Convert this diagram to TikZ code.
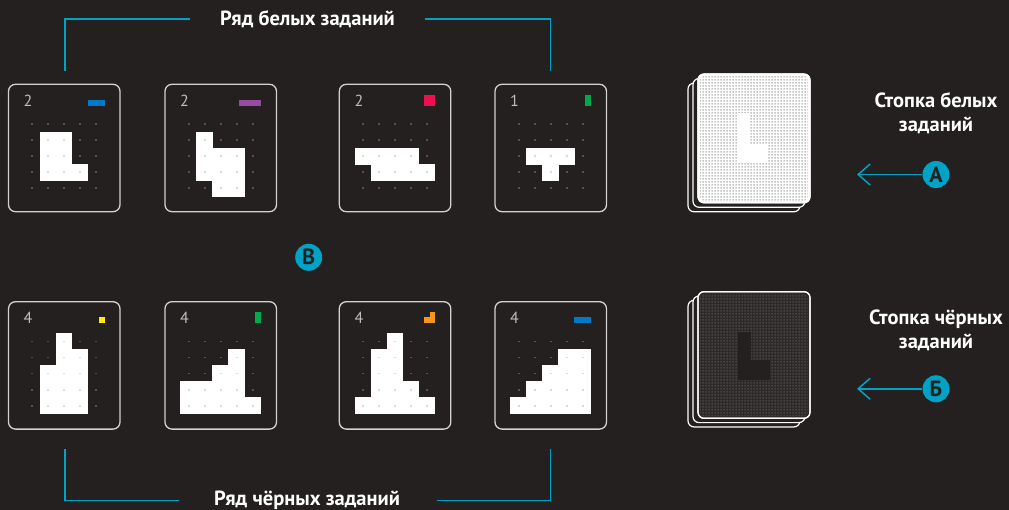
\documentclass[tikz,border=0pt]{standalone}
\usepackage{fontspec}
\setmainfont{PT Sans}
\usetikzlibrary{arrows.meta,patterns,calc}
\definecolor{bg}{RGB}{35,32,31}
\definecolor{cy}{RGB}{0,163,198}
\definecolor{cardline}{RGB}{210,210,210}
\definecolor{numc}{RGB}{190,190,190}
\definecolor{dotc}{RGB}{164,164,164}
\definecolor{ibl}{RGB}{0,121,200}
\definecolor{ipu}{RGB}{150,75,160}
\definecolor{ire}{RGB}{236,16,82}
\definecolor{igr}{RGB}{0,170,76}
\definecolor{iye}{RGB}{255,236,0}
\definecolor{ior}{RGB}{248,150,30}
\definecolor{texw}{RGB}{196,196,196}
\definecolor{blk}{RGB}{44,41,40}
\definecolor{texb}{RGB}{70,67,66}

\pgfdeclarepatternformonly{sqgrid}{\pgfqpoint{0pt}{0pt}}{\pgfqpoint{3pt}{3pt}}{\pgfqpoint{3pt}{3pt}}{%
  \pgfpathrectangle{\pgfqpoint{0.5pt}{0.5pt}}{\pgfqpoint{2pt}{2pt}}\pgfusepath{fill}}

\tikzset{
  card/.style={draw=cardline, line width=1.3pt, rounded corners=7pt, minimum width=111.5pt, minimum height=127.4pt, inner sep=0pt},
  num/.style={font=\fontsize{16}{16}\selectfont, text=numc, inner sep=0pt},
  lbl/.style={font=\bfseries\fontsize{20.5}{24}\selectfont, text=white, inner sep=0pt},
  bracket/.style={draw=cy, line width=1.5pt},
  badge/.style={circle, fill=cy, minimum size=27pt, inner sep=0pt, text=bg, font=\bfseries\fontsize{22}{22}\selectfont},
  arr/.style={draw=cy, line width=1.5pt, -{Straight Barb[length=12pt,width=21pt]}},
  stk/.style={draw=white, line width=1.2pt, rounded corners=6pt, minimum width=112pt, inner sep=0pt},
}

\newcommand\taskcard[5]{%
  \node[card] (#1) at ({#2+55.75},{#3+63.7}) {};
  \foreach \cc/\rr in {#5}{\fill[white] ({#2+15.45+16*\cc},{#3+31.75+16*\rr}) rectangle ++(16.5,16.5);}
  \foreach \cc in {0,...,4}{\foreach \rr in {0,...,4}{\fill[dotc,opacity=.39] ({#2+22.9+16*\cc},{#3+39.2+16*\rr}) rectangle ++(1.6,1.6);}}
  \node[num,anchor=base west] (#1n) at ({#2+15},{#3+22.3}) {#4};
}

\begin{document}
\begin{tikzpicture}[x=1pt,y=-1pt]
\fill[bg] (0,0) rectangle (1009,510);
\useasboundingbox (0,0) rectangle (1009,510);

% top row
\taskcard{c1}{8.5}{84.3}{2}{1/1,2/1,1/2,2/2,1/3,2/3,3/3}
\taskcard{c2}{165}{84.3}{2}{1/1,1/2,1/3,2/2,3/2,2/3,3/3,2/4,3/4}
\taskcard{c3}{339.3}{84.3}{2}{0/2,1/2,2/2,3/2,1/3,2/3,3/3,4/3}
\taskcard{c4}{495}{84.3}{1}{1/2,2/2,3/2,2/3}
\fill[ibl] (88,100) rectangle (105,105.8);
\fill[ipu] (239,100) rectangle (261,105.8);
\fill[ire] (424,95.3) rectangle (435,105.8);
\fill[igr] (585,95.3) rectangle (591,105.8);

% bottom row
\taskcard{c5}{8.5}{301.7}{4}{1/2,1/3,1/4,2/0,2/1,2/2,2/3,2/4,3/1,3/2,3/3,3/4}
\taskcard{c6}{165}{301.7}{4}{3/1,2/2,3/2,0/3,1/3,2/3,3/3,0/4,1/4,2/4,3/4,4/4}
\taskcard{c7}{339.3}{301.7}{4}{0/4,1/1,1/2,1/3,1/4,2/0,2/1,2/2,2/3,2/4,3/3,3/4,4/4}
\taskcard{c8}{495}{301.7}{4}{0/4,1/3,1/4,2/2,2/3,2/4,3/1,3/2,3/3,3/4,4/1,4/2,4/3,4/4}
\fill[iye] (99,316.7) rectangle (105,322.7);
\fill[igr] (255,312) rectangle (261,323);
\fill[ior] (424,317.3) rectangle (435,323);
\fill[ior] (429.5,312) rectangle (435,317.5);
\fill[ibl] (574,317) rectangle (591,323);

% brackets and row titles
\node[lbl, anchor=base] (ttop) at (307.5,26) {Ряд белых заданий};
\coordinate (tA) at (190,18.9);
\coordinate (tB) at (65,70.6);
\coordinate (tC) at (425,18.9);
\coordinate (tD) at (550.3,70.6);
\draw[bracket] (tA) -| (tB);
\draw[bracket] (tC) -| (tD);

\node[lbl, anchor=base] (tbot) at (307,505.3) {Ряд чёрных заданий};
\coordinate (bA) at (179,500.6);
\coordinate (bB) at (65,449);
\coordinate (bC) at (437,500.6);
\coordinate (bD) at (550.3,449);
\draw[bracket] (bA) -| (bB);
\draw[bracket] (bC) -| (bD);

% badge B
\node[badge] (bv) at (308.7,257.3) {В};

% white stack
\node[stk, fill=bg, minimum height=128.7pt] (sw3) at (744,147.4) {};
\node[stk, fill=bg, minimum height=128.7pt] (sw2) at (749,142.9) {};
\node[stk, fill=white, minimum height=128.7pt] (sw) at (754,138.4) {};
\fill[pattern=sqgrid, pattern color=texw, rounded corners=4pt] ([shift={(2.5,2.5)}]sw.north west) rectangle ([shift={(-2.5,-2.5)}]sw.south east);
\fill[white] (738,113) rectangle (750,163);
\fill[white] (738,145) rectangle (768,163);
\node[stk, minimum height=128.7pt] at (sw.center) {};

% black stack
\node[stk, fill=bg, minimum height=126.6pt] (sb3) at (744,363.6) {};
\node[stk, fill=bg, minimum height=126.6pt] (sb2) at (749,359.3) {};
\node[stk, fill=blk, minimum height=126.6pt] (sb) at (754,355) {};
\fill[pattern=sqgrid, pattern color=texb, rounded corners=4pt] ([shift={(2.5,2.5)}]sb.north west) rectangle ([shift={(-2.5,-2.5)}]sb.south east);
\fill[bg] (738,331.7) rectangle (751,380);
\fill[bg] (738,360) rectangle (770,380);
\node[stk, minimum height=126.6pt] at (sb.center) {};

% side labels
\node[lbl, anchor=base] (lw1) at (936,107.5) {Стопка белых};
\node[lbl, anchor=base] (lw2) at (936,131.8) {заданий};
\node[lbl, anchor=base] (lb1) at (936,325) {Стопка чёрных};
\node[lbl, anchor=base] (lb2) at (936,348.8) {заданий};

% badges A and Б with arrows
\node[badge] (ba) at (936,174.5) {А};
\coordinate (aA) at (857,174.5);
\draw[arr] (ba.west) -- (aA);
\node[badge] (bb) at (936,388.8) {Б};
\coordinate (aB) at (857,388.8);
\draw[arr] (bb.west) -- (aB);
\end{tikzpicture}
\end{document}
